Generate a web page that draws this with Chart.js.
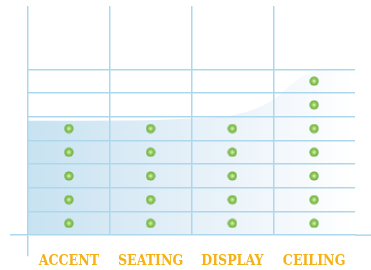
<!DOCTYPE html>
<html>
<head>
<meta charset="utf-8">
<script src="https://cdn.jsdelivr.net/npm/chart.js@4/dist/chart.umd.min.js"></script>
<style>
  html, body { margin: 0; padding: 0; background: #fff; }
  #wrap { width: 371px; height: 270px; }
</style>
</head>
<body>
<div id="wrap"><canvas id="chart"></canvas></div>
<script>
// categories and how many dots each one stacks
const categories = ['ACCENT', 'SEATING', 'DISPLAY', 'CEILING'];
const dotCounts = [5, 5, 5, 7];

// background swoosh (x in category units, y in dot units)
const areaX = [-0.5, 0.8, 1.36, 1.97, 2.25, 2.5, 2.67, 2.86, 3.11, 3.5];
const areaY = [4.83, 4.84, 4.9, 5.04, 5.29, 5.71, 6.21, 6.71, 7.0, 7.08];

const gridTop = 7;
const yMax = 9.67;

const lineBlue = '#acd7ed';
const labelGold = '#f6b116';

// green dot with a light centre
const makeDot = function () {
	const c = document.createElement('canvas');
	c.width = 10;
	c.height = 10;
	const g = c.getContext('2d');
	const grad = g.createRadialGradient(5, 5, 0.3, 5, 5, 5);
	grad.addColorStop(0, '#e2f3c8');
	grad.addColorStop(0.35, '#9ccf62');
	grad.addColorStop(1, '#5ca62f');
	g.fillStyle = grad;
	g.beginPath();
	g.arc(5, 5, 4.6, 0, Math.PI * 2);
	g.fill();
	return c;
};

const dots = [];
categories.forEach(function (cat, i) {
	for (let k = 0; k < dotCounts[i]; k++) {
		dots.push({ x: cat, y: k + 0.5 });
	}
});

const area = areaX.map(function (x, i) {
	return { x: x, y: areaY[i] };
});

// stretch the x axis line out to the canvas edge
const axisExtend = {
	id: 'axisExtend',
	afterDraw: function (chart) {
		const ctx = chart.ctx;
		const y = chart.scales.y.getPixelForValue(0);
		ctx.save();
		ctx.strokeStyle = lineBlue;
		ctx.lineWidth = 1.5;
		ctx.beginPath();
		ctx.moveTo(chart.chartArea.right, y);
		ctx.lineTo(chart.width, y);
		ctx.stroke();
		ctx.restore();
	},
};

const config = {
	data: {
		labels: categories,
		datasets: [
			{
				type: 'line',
				data: dots,
				xAxisID: 'x',
				showLine: false,
				pointStyle: makeDot(),
				pointRadius: 5,
				pointHoverRadius: 5,
				order: 0,
			},
			{
				type: 'line',
				data: area,
				xAxisID: 'xa',
				fill: 'origin',
				borderWidth: 0,
				pointRadius: 0,
				cubicInterpolationMode: 'monotone',
				backgroundColor: function (context) {
					const area = context.chart.chartArea;
					if (!area) return 'rgba(200,227,241,0.9)';
					const g = context.chart.ctx.createLinearGradient(area.left, 0, area.right, 0);
					g.addColorStop(0, '#c7e2f1');
					g.addColorStop(0.5, '#e5f0f8');
					g.addColorStop(0.85, '#f7fafd');
					g.addColorStop(1, '#ffffff');
					return g;
				},
				order: 1,
			},
		],
	},
	options: {
		responsive: true,
		maintainAspectRatio: false,
		animation: false,
		layout: { padding: { left: 10, right: 16, top: 0, bottom: 3 } },
		plugins: {
			legend: { display: false },
			tooltip: { enabled: false },
		},
		scales: {
			x: {
				type: 'category',
				offset: true,
				grid: {
					z: 1,
					offset: true,
					lineWidth: 1.5,
					color: function (c) {
						return c.index < categories.length ? lineBlue : 'rgba(0,0,0,0)';
					},
					tickColor: function (c) {
						return c.index === 0 ? lineBlue : 'rgba(0,0,0,0)';
					},
					tickLength: 21,
				},
				border: { display: true, color: lineBlue, width: 1.5, z: 1 },
				ticks: {
					padding: -3,
					color: labelGold,
					font: { family: "'DejaVu Serif Condensed', 'DejaVu Serif', serif", size: 14, weight: 'bold' },
				},
			},
			xa: {
				type: 'linear',
				display: false,
				min: -0.5,
				max: 3.5,
			},
			y: {
				min: 0,
				max: yMax,
				ticks: { display: false, stepSize: 1 },
				grid: {
					z: 1,
					lineWidth: 1.5,
					color: function (c) {
						const v = c.tick.value;
						return v > 0 && v <= gridTop ? lineBlue : 'rgba(0,0,0,0)';
					},
					tickColor: function (c) {
						return c.tick.value === 0 ? lineBlue : 'rgba(0,0,0,0)';
					},
					tickLength: 18,
				},
				border: { display: false },
			},
		},
	},
	plugins: [axisExtend],
};

const init = function () {
	const ctx = document.querySelector('#chart');
	const myChart = new Chart(ctx, config);
};
document.addEventListener('DOMContentLoaded', init);
</script>
</body>
</html>
